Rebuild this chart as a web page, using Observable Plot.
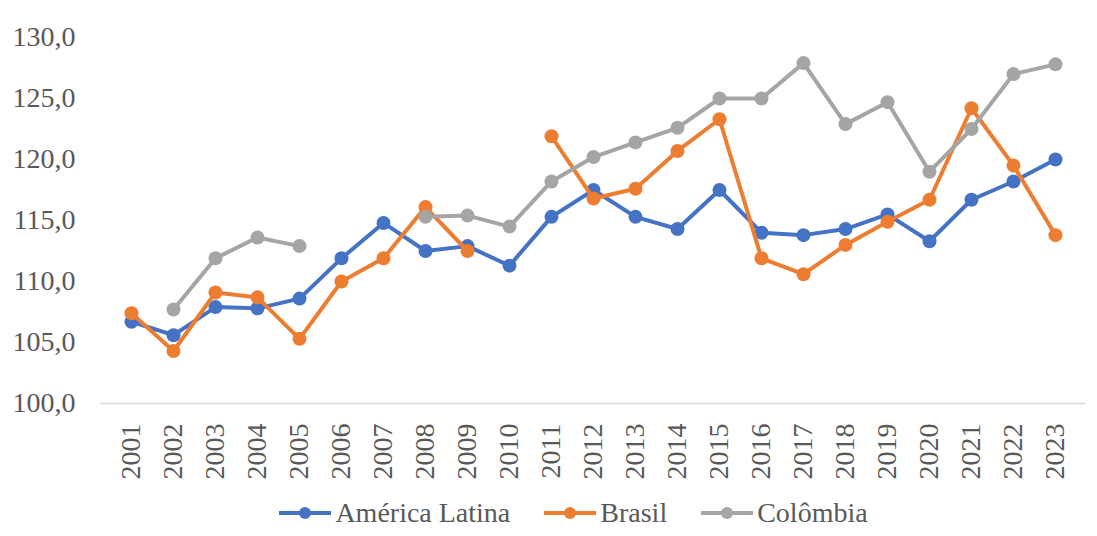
<!DOCTYPE html>
<html>
<head>
<meta charset="utf-8">
<script src="https://cdn.jsdelivr.net/npm/d3@7"></script>
<script src="https://cdn.jsdelivr.net/npm/@observablehq/plot@0.6"></script>
</head>
<body style="margin:0;padding:0;background:#fff;">
<div id="chart"></div>
<div id="legend" style="display:flex;justify-content:center;align-items:center;height:46px;color:#595959;font:28px 'Liberation Serif';padding-left:50px;">
  <div style="display:flex;align-items:center;margin:0 17px;"><svg width="52" height="16" style="margin-right:4px"><line x1="0" y1="8" x2="52" y2="8" stroke="#4472C4" stroke-width="4"/><circle cx="26" cy="8" r="6" fill="#4472C4"/></svg><span>América Latina</span></div>
  <div style="display:flex;align-items:center;margin:0 17px;"><svg width="52" height="16" style="margin-right:4px"><line x1="0" y1="8" x2="52" y2="8" stroke="#ED7D31" stroke-width="4"/><circle cx="26" cy="8" r="6" fill="#ED7D31"/></svg><span>Brasil</span></div>
  <div style="display:flex;align-items:center;margin:0 17px;"><svg width="52" height="16" style="margin-right:4px"><line x1="0" y1="8" x2="52" y2="8" stroke="#A5A5A5" stroke-width="4"/><circle cx="26" cy="8" r="6" fill="#A5A5A5"/></svg><span>Colômbia</span></div>
</div>
<script>
const years = ["2001","2002","2003","2004","2005","2006","2007","2008","2009","2010","2011","2012","2013","2014","2015","2016","2017","2018","2019","2020","2021","2022","2023"];
const americaLatina = [106.7,105.6,107.9,107.8,108.6,111.9,114.8,112.5,112.9,111.3,115.3,117.5,115.3,114.3,117.5,114.0,113.8,114.3,115.5,113.3,116.7,118.2,120.0];
const brasil = [107.4,104.3,109.1,108.7,105.3,110.0,111.9,116.1,112.5,null,121.9,116.8,117.6,120.7,123.3,111.9,110.6,113.0,114.9,116.7,124.2,119.5,113.8];
const colombia = [null,107.7,111.9,113.6,112.9,null,null,115.3,115.4,114.5,118.2,120.2,121.4,122.6,125.0,125.0,127.9,122.9,124.7,119.0,122.5,127.0,127.8];
const seriesNames = ["América Latina","Brasil","Colômbia"];
const seriesColors = ["#4472C4","#ED7D31","#A5A5A5"];
const yTicks = [100,105,110,115,120,125,130];

const seriesValues = [americaLatina, brasil, colombia];
const marks = [Plot.ruleY([100], {stroke: "#d9d9d9", strokeWidth: 1.5})];
seriesValues.forEach((vals, i) => {
  const rows = years.map((y, j) => ({year: y, value: vals[j]}));
  marks.push(Plot.line(rows, {x: "year", y: "value", stroke: seriesColors[i], strokeWidth: 4, defined: d => d.value != null}));
  marks.push(Plot.dot(rows.filter(d => d.value != null), {x: "year", y: "value", r: 7, fill: seriesColors[i], stroke: "none"}));
});

const chart = Plot.plot({
  width: 1097,
  height: 490,
  marginLeft: 100,
  marginRight: 11,
  marginTop: 37,
  marginBottom: 87,
  style: "font: 28px 'Liberation Serif'; color: #595959; background: #fff;",
  x: {type: "point", domain: years, padding: 0.5, label: null},
  y: {domain: [100, 130], label: null},
  marks: [
    Plot.axisY({ticks: yTicks, tickSize: 0, tickPadding: 25, tickFormat: d => d.toFixed(1).replace(".", ","), fill: "#595959", fontSize: 28, label: null}),
    Plot.axisX({tickSize: 0, tickPadding: 20, tickRotate: -90, fill: "#595959", fontSize: 28, label: null}),
    ...marks
  ]
});
document.getElementById("chart").appendChild(chart);
</script>
</body>
</html>
